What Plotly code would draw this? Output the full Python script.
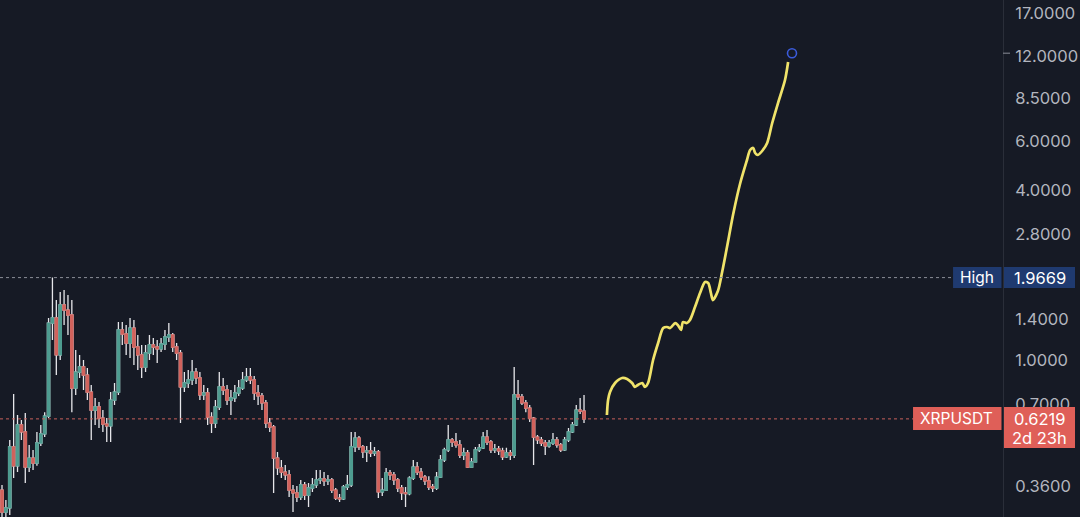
import math
import plotly.graph_objects as go

# weekly XRPUSDT candles (index = week number)
opens = [
    0.348, 0.291, 0.301, 0.495, 0.424, 0.592, 0.559, 0.420, 0.452, 0.434,
    0.511, 0.550, 0.636, 1.358, 1.415, 1.047, 1.573, 1.510, 1.450, 0.800,
    0.911, 0.949, 0.889, 0.774, 0.668, 0.685, 0.626, 0.596, 0.587, 0.725,
    0.774, 1.283, 1.242, 1.154, 1.304, 1.117, 1.047, 0.949, 1.064, 1.136,
    1.117, 1.100, 1.145, 1.212, 1.232, 1.117, 1.064, 0.807, 0.833, 0.854,
    0.911, 0.868, 0.756, 0.768, 0.631, 0.601, 0.685, 0.807, 0.787, 0.725,
    0.738, 0.768, 0.800, 0.854, 0.875, 0.854, 0.768, 0.750, 0.708, 0.601,
    0.582, 0.452, 0.417, 0.403, 0.394, 0.348, 0.340, 0.329, 0.363, 0.334,
    0.354, 0.363, 0.378, 0.381, 0.375, 0.378, 0.348, 0.326, 0.324, 0.357,
    0.363, 0.495, 0.532, 0.495, 0.475, 0.479, 0.471, 0.475, 0.343, 0.348,
    0.400, 0.394, 0.378, 0.354, 0.340, 0.338, 0.384, 0.420, 0.403, 0.387,
    0.375, 0.357, 0.354, 0.387, 0.445, 0.483, 0.524, 0.515, 0.503, 0.463,
    0.471, 0.420, 0.438, 0.483, 0.491, 0.536, 0.515, 0.483, 0.487, 0.479,
    0.456, 0.471, 0.463, 0.756, 0.744, 0.708, 0.679, 0.626, 0.536, 0.524,
    0.511, 0.499, 0.511, 0.524, 0.503, 0.483, 0.524, 0.559, 0.592, 0.668,
    0.663,
]
highs = [
    0.363, 0.321, 0.524, 0.762, 0.642, 0.616, 0.652, 0.503, 0.483, 0.559,
    0.592, 0.657, 1.415, 1.9669, 1.638, 1.748, 1.777, 1.706, 1.638, 1.090,
    1.047, 1.005, 0.942, 0.820, 0.738, 0.714, 0.668, 0.626, 0.774, 0.833,
    1.369, 1.369, 1.336, 1.415, 1.392, 1.232, 1.136, 1.136, 1.232, 1.202,
    1.183, 1.202, 1.283, 1.358, 1.252, 1.154, 1.090, 0.911, 0.926, 1.005,
    0.942, 0.911, 0.820, 0.800, 0.657, 0.725, 0.911, 0.868, 0.820, 0.787,
    0.820, 0.854, 0.911, 0.942, 0.942, 0.882, 0.820, 0.768, 0.725, 0.626,
    0.592, 0.475, 0.445, 0.427, 0.410, 0.363, 0.360, 0.378, 0.372, 0.369,
    0.384, 0.410, 0.410, 0.403, 0.394, 0.384, 0.354, 0.337, 0.363, 0.394,
    0.559, 0.559, 0.541, 0.503, 0.499, 0.515, 0.495, 0.483, 0.384, 0.417,
    0.410, 0.403, 0.384, 0.363, 0.357, 0.390, 0.445, 0.438, 0.417, 0.394,
    0.390, 0.366, 0.403, 0.463, 0.491, 0.592, 0.532, 0.554, 0.524, 0.491,
    0.483, 0.452, 0.495, 0.507, 0.559, 0.568, 0.524, 0.507, 0.499, 0.491,
    0.491, 0.483, 0.949, 0.854, 0.762, 0.725, 0.696, 0.631, 0.545, 0.536,
    0.524, 0.524, 0.554, 0.536, 0.511, 0.536, 0.577, 0.606, 0.696, 0.738,
    0.756,
]
lows = [
    0.273, 0.262, 0.284, 0.384, 0.403, 0.524, 0.369, 0.403, 0.410, 0.424,
    0.499, 0.536, 0.626, 1.183, 0.889, 1.005, 1.336, 1.232, 0.657, 0.756,
    0.868, 0.787, 0.725, 0.524, 0.592, 0.577, 0.559, 0.515, 0.515, 0.696,
    0.756, 1.136, 1.047, 1.022, 0.965, 0.926, 0.868, 0.911, 1.005, 1.047,
    0.981, 1.073, 1.090, 1.164, 1.073, 1.005, 0.601, 0.774, 0.800, 0.820,
    0.827, 0.725, 0.725, 0.592, 0.554, 0.577, 0.668, 0.756, 0.696, 0.642,
    0.714, 0.750, 0.787, 0.840, 0.827, 0.725, 0.696, 0.668, 0.577, 0.559,
    0.340, 0.394, 0.384, 0.378, 0.329, 0.291, 0.316, 0.321, 0.321, 0.303,
    0.343, 0.354, 0.366, 0.360, 0.363, 0.340, 0.321, 0.316, 0.321, 0.348,
    0.357, 0.475, 0.483, 0.452, 0.438, 0.456, 0.460, 0.326, 0.332, 0.348,
    0.378, 0.363, 0.343, 0.321, 0.303, 0.334, 0.378, 0.394, 0.378, 0.363,
    0.348, 0.343, 0.348, 0.384, 0.438, 0.475, 0.495, 0.491, 0.452, 0.445,
    0.417, 0.420, 0.438, 0.475, 0.487, 0.503, 0.471, 0.471, 0.463, 0.445,
    0.452, 0.445, 0.452, 0.725, 0.696, 0.657, 0.606, 0.427, 0.507, 0.499,
    0.463, 0.491, 0.503, 0.491, 0.475, 0.479, 0.515, 0.554, 0.587, 0.647,
    0.601,
]
closes = [
    0.291, 0.301, 0.495, 0.424, 0.592, 0.559, 0.420, 0.452, 0.434, 0.511,
    0.550, 0.636, 1.358, 1.415, 1.047, 1.573, 1.510, 1.450, 0.800, 0.911,
    0.949, 0.889, 0.774, 0.668, 0.685, 0.626, 0.596, 0.587, 0.725, 0.774,
    1.283, 1.242, 1.154, 1.304, 1.117, 1.047, 0.949, 1.064, 1.136, 1.117,
    1.100, 1.145, 1.212, 1.232, 1.117, 1.064, 0.807, 0.833, 0.854, 0.911,
    0.868, 0.756, 0.768, 0.631, 0.601, 0.685, 0.807, 0.787, 0.725, 0.738,
    0.768, 0.800, 0.854, 0.875, 0.854, 0.768, 0.750, 0.708, 0.601, 0.582,
    0.452, 0.417, 0.403, 0.394, 0.348, 0.340, 0.329, 0.363, 0.334, 0.354,
    0.363, 0.378, 0.381, 0.375, 0.378, 0.348, 0.326, 0.324, 0.357, 0.363,
    0.495, 0.532, 0.495, 0.475, 0.479, 0.471, 0.475, 0.343, 0.348, 0.400,
    0.394, 0.378, 0.354, 0.340, 0.338, 0.384, 0.420, 0.403, 0.387, 0.375,
    0.357, 0.354, 0.387, 0.445, 0.483, 0.524, 0.515, 0.503, 0.463, 0.471,
    0.420, 0.438, 0.483, 0.491, 0.536, 0.515, 0.483, 0.487, 0.479, 0.456,
    0.471, 0.463, 0.756, 0.744, 0.708, 0.679, 0.626, 0.536, 0.524, 0.511,
    0.499, 0.511, 0.524, 0.503, 0.483, 0.524, 0.559, 0.592, 0.668, 0.663,
    0.6219,
]
weeks = list(range(len(closes)))

# hand-drawn projection (yellow)
proj_week = [
    155.9, 156.2, 156.7, 158.0, 159.8, 161.1, 162.4, 163.1, 163.9, 165.0,
    165.7, 166.5, 167.8, 169.1, 170.4, 171.4, 172.2, 173.5, 174.2, 175.0,
    175.5, 176.5, 177.3, 178.6, 179.9, 181.2, 182.0, 182.7, 183.2, 184.5,
    185.6, 186.9, 188.4, 190.2, 192.0, 192.8, 193.6, 194.1, 194.8, 196.1,
    197.2, 198.5, 200.0, 201.8, 202.6,
]
proj_price = [
    0.642, 0.725, 0.774, 0.833, 0.868, 0.861, 0.833, 0.807, 0.820, 0.833,
    0.807, 0.833, 1.005, 1.154, 1.304, 1.315, 1.304, 1.358, 1.336, 1.283,
    1.369, 1.358, 1.392, 1.547, 1.735, 1.898, 1.882, 1.735, 1.638, 1.763,
    2.058, 2.544, 3.276, 4.219, 5.129, 5.565, 5.656, 5.430, 5.343, 5.565,
    5.892, 6.934, 8.160, 9.845, 11.40,
]
target_week = 203.6
target_price = 12.25

tick_vals = [0.36, 0.7, 1.0, 1.4, 2.8, 4.0, 6.0, 8.5, 12.0, 17.0]
tick_text = ["0.3600", "0.7000", "1.0000", "1.4000", "2.8000",
             "4.0000", "6.0000", "8.5000", "12.0000", "17.0000"]

high_price = 1.9669
last_price = 0.6219

BG = "#161a25"
UP = "#4e9c90"
DOWN = "#d1625c"
WICK = "#e6e6ea"
BLUE_BADGE = "#1f3a70"
RED_BADGE = "#df5f58"
FONT = "Inter"
Y_RANGE = [-0.5536, 1.2764]

body_top = [max(o, c) for o, c in zip(opens, closes)]
body_bot = [min(o, c) for o, c in zip(opens, closes)]


def paper_y(price):
    # vertical position of a price as a fraction of the plot height
    return (math.log10(price) - Y_RANGE[0]) / (Y_RANGE[1] - Y_RANGE[0])


fig = go.Figure()

# wicks (white)
fig.add_trace(go.Candlestick(
    x=weeks, open=opens, high=highs, low=lows, close=closes,
    increasing=dict(line=dict(color=WICK, width=1.3), fillcolor=WICK),
    decreasing=dict(line=dict(color=WICK, width=1.3), fillcolor=WICK),
    hoverinfo="skip",
))
# coloured bodies on top
fig.add_trace(go.Candlestick(
    x=weeks, open=opens, high=body_top, low=body_bot, close=closes,
    increasing=dict(line=dict(color=UP, width=1.3), fillcolor=UP),
    decreasing=dict(line=dict(color=DOWN, width=1.3), fillcolor=DOWN),
))

fig.add_trace(go.Scatter(
    x=proj_week, y=proj_price, mode="lines",
    line=dict(color="#f0e36a", width=2.7, shape="spline", smoothing=0.8),
))
fig.add_trace(go.Scatter(
    x=[target_week], y=[target_price], mode="markers",
    marker=dict(size=9, color=BG, line=dict(color="#3b5bdb", width=1.6)),
))

# price lines
fig.add_shape(type="line", xref="paper", yref="y", x0=0, x1=0.9502,
              y0=high_price, y1=high_price,
              line=dict(color="#8b8e98", width=1, dash="dot"))
fig.add_shape(type="line", xref="paper", yref="y", x0=0, x1=0.9103,
              y0=last_price, y1=last_price,
              line=dict(color="#c8615b", width=1, dash="dot"))
fig.add_shape(type="line", xref="paper", yref="paper", x0=1.0, x1=1.007,
              y0=paper_y(target_price), y1=paper_y(target_price),
              line=dict(color="#8b8e98", width=1))

# badges
hp = paper_y(high_price)
lp = paper_y(last_price)
for x0, x1, anchor, y0, y1, color in [
    (0.9502, 0.9985, hp, -10.5, 10.5, BLUE_BADGE),
    (1.001, 1.0718, hp, -10.5, 10.5, BLUE_BADGE),
    (0.9103, 0.9985, lp, -11.2, 11.8, RED_BADGE),
    (1.001, 1.0718, lp, -29.2, 11.8, RED_BADGE),
]:
    fig.add_shape(type="rect", xref="paper", yref="paper", x0=x0, x1=x1,
                  ysizemode="pixel", yanchor=anchor, y0=y0, y1=y1,
                  fillcolor=color, line_width=0, layer="above")

for text, x, y, shift, size in [
    ("High", 0.9740, hp, 0, 15.5),
    ("1.9669", 1.0364, hp, 0, 16.5),
    ("XRPUSDT", 0.9540, lp, 0, 15.5),
    ("0.6219", 1.0364, lp, 0, 16.5),
    ("2d 23h", 1.0364, lp, -19, 16.5),
]:
    fig.add_annotation(text=text, x=x, y=y, xref="paper", yref="paper",
                       xanchor="center", yanchor="middle", yshift=shift,
                       showarrow=False,
                       font=dict(family=FONT, size=size, color="#ffffff"))

fig.update_layout(
    width=1080, height=517,
    margin=dict(l=0, r=77, t=0, b=0),
    paper_bgcolor=BG, plot_bgcolor=BG,
    showlegend=False,
    boxgap=0.2, boxgroupgap=0.25, boxmode="overlay",
    font=dict(family=FONT),
)
fig.update_xaxes(range=[-0.515, 257.98], visible=False,
                 rangeslider=dict(visible=False), showgrid=False)
fig.update_yaxes(
    type="log", range=Y_RANGE, side="right",
    tickvals=tick_vals, ticktext=tick_text,
    tickfont=dict(family=FONT, size=16.5, color="#b2b5be"),
    showgrid=False, zeroline=False, ticks="",
    showline=True, linecolor="#2a2e39", linewidth=1,
    ticklabelstandoff=8,
)

fig.write_html(
    "out.html",
    config={"displayModeBar": False},
    post_script="document.body.style.margin='0';"
                "document.body.style.background='#161a25';"
                "document.body.style.overflow='hidden';",
)
